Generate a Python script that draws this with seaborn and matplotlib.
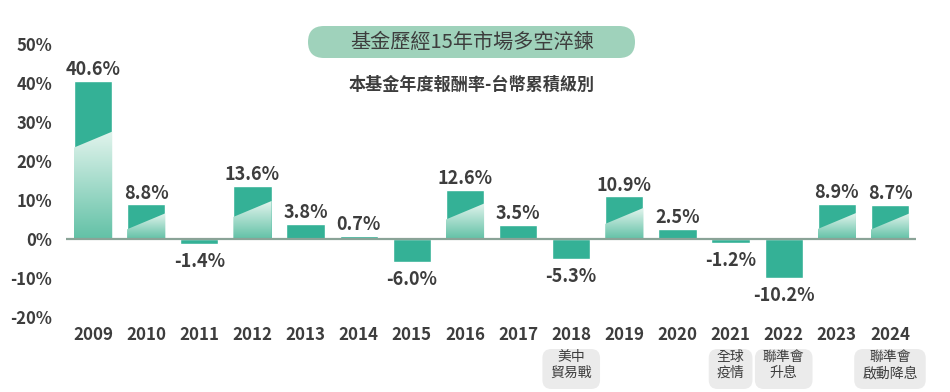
import numpy as np
import pandas as pd
import matplotlib
matplotlib.use("Agg")
from matplotlib import pyplot as plt
from matplotlib.patches import FancyBboxPatch, Polygon
from matplotlib.transforms import IdentityTransform
import seaborn as sns

# Données du graphique
years = ['2009', '2010', '2011', '2012', '2013', '2014', '2015', '2016',
         '2017', '2018', '2019', '2020', '2021', '2022', '2023', '2024']
returns = [40.6, 8.8, -1.4, 13.6, 3.8, 0.7, -6.0, 12.6,
           3.5, -5.3, 10.9, 2.5, -1.2, -10.2, 8.9, 8.7]
y_ticks = [-20, -10, 0, 10, 20, 30, 40, 50]
event_years = ['2018', '2021', '2022', '2024']
event_labels = ['美中\n貿易戰', '全球\n疫情', '聯準會\n升息', '聯準會\n啟動降息']
title = '基金歷經15年市場多空淬鍊'
subtitle = '本基金年度報酬率-台幣累積級別'

teal = '#34b196'
txt = '#3d3d3d'

sns.set_style('white')
plt.rcParams['font.family'] = ['Noto Sans CJK TC', 'DejaVu Sans']

df = pd.DataFrame({'year': years, 'ret': returns})

fig = plt.figure(figsize=(9.5, 3.92), dpi=100)
ax = fig.add_axes([66 / 950, 75.5 / 392, 850 / 950, 272.5 / 392])

sns.barplot(data=df, x='year', y='ret', color=teal, saturation=1,
            width=0.72, ax=ax, zorder=2)

# dégradé clair sur le bas des grandes barres positives
grad = np.linspace(0, 1, 256).reshape(-1, 1)
cmap = matplotlib.colors.LinearSegmentedColormap.from_list('g', ['#62c1a6', '#e2f4ed'])
for bar, v in zip(ax.patches, returns):
    if v < 8:
        continue
    x0 = bar.get_x()
    x1 = x0 + bar.get_width()
    right = 0.66 * v + 0.7
    left = max(right - 4.1, 0)
    poly = Polygon([(x0, 0), (x1, 0), (x1, right), (x0, left)], closed=True,
                   transform=ax.transData, fc='none', ec='none')
    ax.add_patch(poly)
    im = ax.imshow(grad, extent=(x0, x1, 0, right), origin='lower', cmap=cmap,
                   aspect='auto', zorder=2.5)
    im.set_clip_path(poly)

# étiquettes de valeur
for bar, v in zip(ax.patches, returns):
    xc = bar.get_x() + bar.get_width() / 2
    if v >= 0:
        ax.annotate(f'{v:.1f}%', (xc, v), xytext=(0, 4), textcoords='offset points',
                    ha='center', va='baseline', fontsize=13, fontweight='bold', color=txt)
    else:
        ax.annotate(f'{v:.1f}%', (xc, v), xytext=(0, -5.5), textcoords='offset points',
                    ha='center', va='top', fontsize=13, fontweight='bold', color=txt)

ax.axhline(0, color='#8aa397', lw=1.6, zorder=3)
ax.set_xlim(-0.51, 15.49)
ax.set_ylim(-20, 50)
ax.set_yticks(y_ticks)
ax.set_yticklabels([f'{t}%' for t in y_ticks])
ax.set_xlabel('')
ax.set_ylabel('')
ax.tick_params(axis='x', length=0, pad=7, labelsize=12.2, labelcolor=txt)
ax.tick_params(axis='y', length=0, pad=10, labelsize=12, labelcolor=txt)
for lab in ax.get_xticklabels() + ax.get_yticklabels():
    lab.set_fontweight('bold')
sns.despine(ax=ax, left=True, bottom=True)

# titre dans un cadre arrondi
fig.add_artist(FancyBboxPatch((3.08, 3.34), 3.27, 0.32,
                              boxstyle='round,pad=0,rounding_size=0.16',
                              transform=fig.dpi_scale_trans, fc='#9fd2bb', ec='none'))
fig.text(472 / 950, 1 - 42 / 392, title, ha='center', va='center',
         fontsize=14.5, fontweight='medium', color=txt, zorder=3)
fig.text(472 / 950, 1 - 85 / 392, subtitle, ha='center', va='center',
         fontsize=12.3, fontweight='bold', color=txt, zorder=3)

# événements sous les années
fig.canvas.draw()
for yr, lab in zip(event_years, event_labels):
    i = years.index(yr)
    xpix = ax.transData.transform((i, 0))[0]
    t = fig.text(xpix / 950, 1 - 350 / 392, lab, ha='center', va='top',
                 fontsize=10, color=txt, linespacing=1.2, zorder=3)
    fig.canvas.draw()
    bb = t.get_window_extent()
    w = bb.width + 16
    fig.add_artist(FancyBboxPatch((xpix - w / 2, 392 - 389), w, 40,
                                  boxstyle='round,pad=0,rounding_size=9',
                                  transform=IdentityTransform(), fc='#ebebeb', ec='none',
                                  zorder=1))

fig.savefig('out.png', dpi=100)
